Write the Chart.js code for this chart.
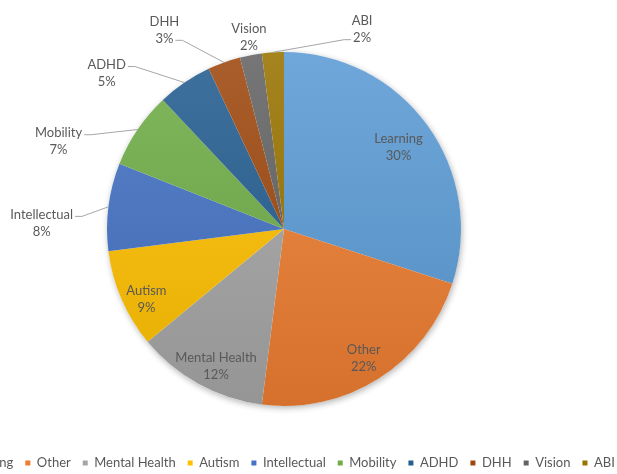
<!DOCTYPE html>
<html>
<head>
<meta charset="utf-8">
<script src="https://cdn.jsdelivr.net/npm/chart.js@4"></script>
<style>
  html, body { margin: 0; padding: 0; background: #fff; overflow: hidden; width: 617px; height: 474px; }
  #wrap { position: relative; width: 617px; height: 474px; overflow: hidden; }
  #chart { position: absolute; left: -136px; top: 0; }
</style>
</head>
<body>
<div id="wrap"><canvas id="chart" width="840" height="490"></canvas></div>
<script>
// Categorias e percentuais (sentido horário a partir do topo)
const categories = ['Learning', 'Other', 'Mental Health', 'Autism', 'Intellectual', 'Mobility', 'ADHD', 'DHH', 'Vision', 'ABI'];
const shares = [30, 22, 12, 9, 8, 7, 5, 3, 2, 2];
const colors = ['#5B9BD5', '#ED7D31', '#A5A5A5', '#FFC000', '#4472C4', '#70AD47', '#255E91', '#9E480E', '#636363', '#997300'];

// Posição dos rótulos: [ângulo a partir das 12h em graus, distância / raio, linha do guia (-1 = sem guia)]
const labelSpots = [
  [54, 0.80, -1], [148, 0.85, -1], [206.5, 0.86, -1], [243.3, 0.87, -1],
  [271.8, 1.37, 0], [291.6, 1.37, 0], [311.6, 1.34, 0], [329.2, 1.32, 1], [349.7, 1.11, -1], [21.2, 1.22, 1]
];

const pieRadius = 177;
const fontFamily = 'Lato';
const textColor = '#595959';

// Clareia (amt > 0) ou escurece (amt < 0) uma cor hex
function shade(hex, amt) {
  const n = parseInt(hex.slice(1), 16);
  const t = amt < 0 ? 0 : 255, p = Math.abs(amt);
  const mix = v => Math.round(v + (t - v) * p);
  return `rgb(${mix(n >> 16)},${mix((n >> 8) & 255)},${mix(n & 255)})`;
}

// Gradiente vertical em cada fatia (mais claro em cima)
function sliceFill(ctx) {
  const area = ctx.chart.chartArea;
  const base = colors[ctx.dataIndex];
  if (!area) return base;
  const cy = (area.top + area.bottom) / 2;
  const g = ctx.chart.ctx.createLinearGradient(0, cy - pieRadius, 0, cy + pieRadius);
  g.addColorStop(0, shade(base, 0.12));
  g.addColorStop(1, shade(base, -0.1));
  return g;
}

// Plugin: sombra da pizza + rótulos com linhas guia
const pieLabels = {
  id: 'pieLabels',
  beforeDatasetsDraw(chart) {
    const arc = chart.getDatasetMeta(0).data[0];
    const c = chart.ctx;
    c.save();
    c.shadowColor = 'rgba(0,0,0,0.3)';
    c.shadowBlur = 6;
    c.shadowOffsetX = 1;
    c.shadowOffsetY = 2;
    c.fillStyle = '#fff';
    c.beginPath();
    c.arc(arc.x, arc.y, arc.outerRadius, 0, Math.PI * 2);
    c.fill();
    c.restore();
  },
  afterDatasetsDraw(chart) {
    const c = chart.ctx;
    const meta = chart.getDatasetMeta(0);
    const total = shares.reduce((a, b) => a + b, 0);
    const lineH = 17;
    c.save();
    c.font = `13px ${fontFamily}`;
    c.fillStyle = textColor;
    c.textAlign = 'center';
    c.textBaseline = 'middle';
    meta.data.forEach((arc, i) => {
      const [deg, f, row] = labelSpots[i];
      const a = deg * Math.PI / 180;
      const lx = arc.x + Math.sin(a) * arc.outerRadius * f;
      const ly = arc.y - Math.cos(a) * arc.outerRadius * f + 1.5;
      const lines = [categories[i], Math.round(shares[i] / total * 100) + '%'];
      lines.forEach((t, k) => c.fillText(t, lx, ly + (k - 0.5) * lineH));

      if (row >= 0) {
        const mid = (arc.startAngle + arc.endAngle) / 2;
        const ex = arc.x + Math.cos(mid) * arc.outerRadius;
        const ey = arc.y + Math.sin(mid) * arc.outerRadius;
        const tw = c.measureText(lines[row]).width;
        const ty = ly + (row - 0.5) * lineH + 2;
        const dir = lx < arc.x ? 1 : -1;
        const sx = lx + dir * (tw / 2 + 2);
        c.beginPath();
        c.strokeStyle = '#a6a6a6';
        c.lineWidth = 1;
        c.moveTo(sx, ty);
        c.lineTo(sx + dir * 7, ty);
        c.lineTo(ex, ey);
        c.stroke();
      }
    });
    c.restore();
  }
};

const ctx = document.getElementById('chart').getContext('2d');
new Chart(ctx, {
  type: 'pie',
  data: {
    labels: categories,
    datasets: [{
      data: shares,
      backgroundColor: sliceFill,
      borderWidth: 0,
      radius: pieRadius
    }]
  },
  options: {
    responsive: false,
    animation: false,
    layout: { padding: { top: 13.5, bottom: 10.5, left: 0, right: 0 } },
    plugins: {
      tooltip: { enabled: false },
      legend: {
        position: 'bottom',
        labels: {
          boxWidth: 5,
          boxHeight: 5,
          padding: 12,
          color: textColor,
          font: { family: fontFamily, size: 13 },
          generateLabels: () => categories.map((t, i) => ({
            text: t, fillStyle: colors[i], strokeStyle: colors[i], lineWidth: 0,
            hidden: false, index: i, fontColor: textColor
          }))
        }
      }
    }
  },
  plugins: [pieLabels]
});
</script>
</body>
</html>
